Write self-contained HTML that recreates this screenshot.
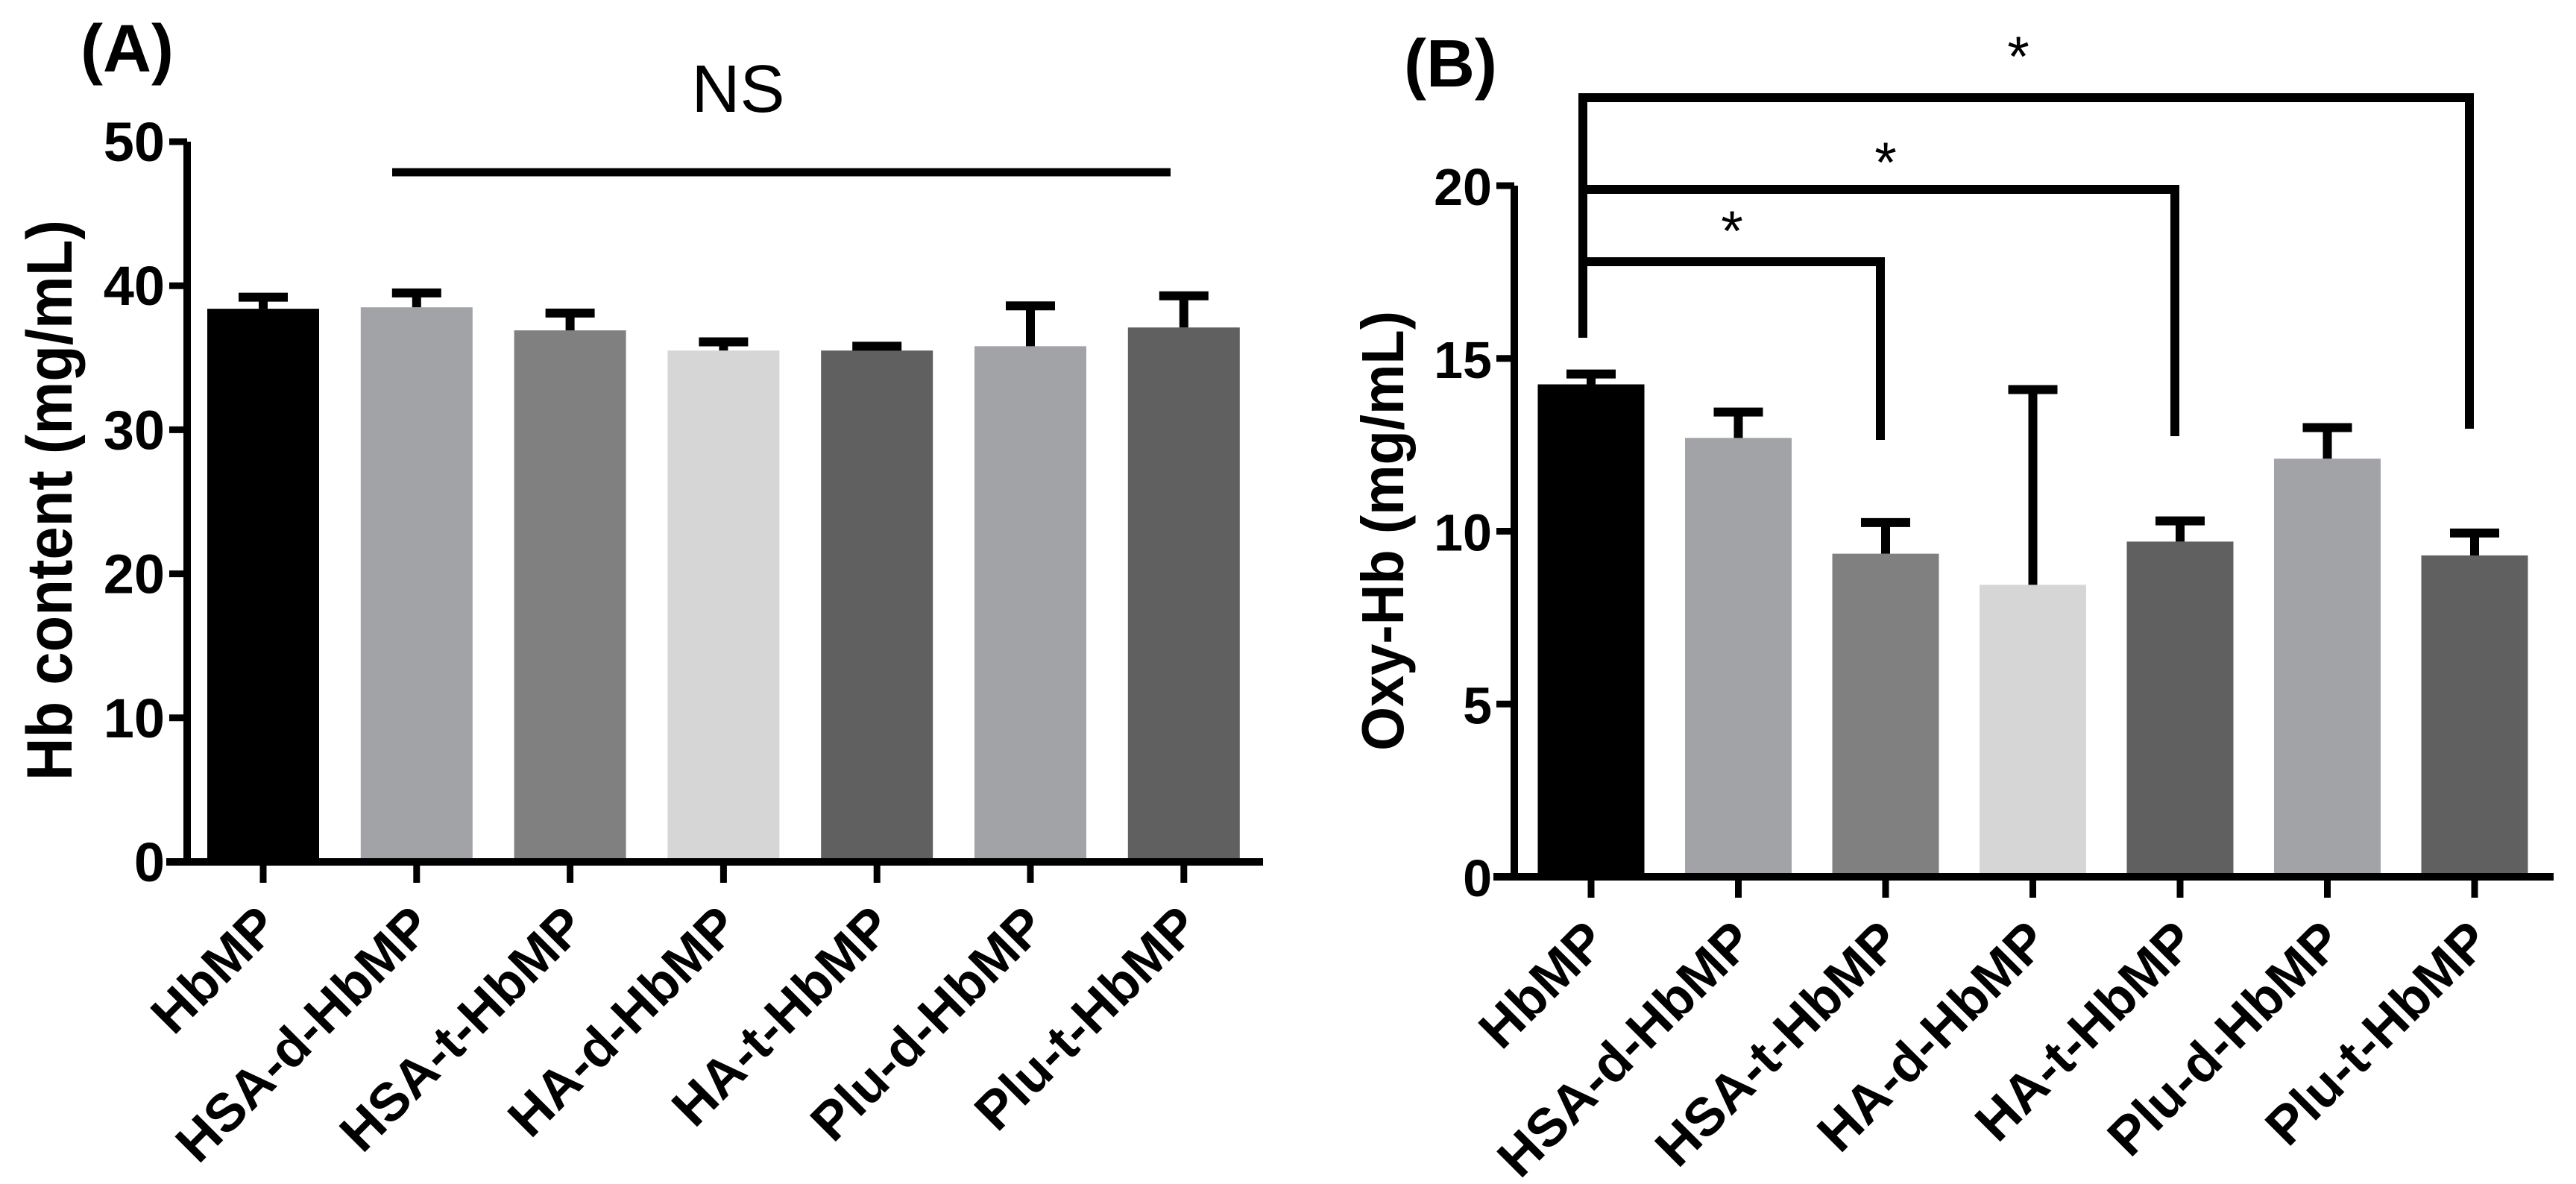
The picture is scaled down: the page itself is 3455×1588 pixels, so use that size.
<!DOCTYPE html>
<html><head><meta charset="utf-8"><style>
html,body{margin:0;padding:0;background:#fff;}
svg{display:block;}
text{font-family:"Liberation Sans",Arial,sans-serif;}
</style></head><body>
<svg id="fig" width="3455" height="1588" viewBox="0 0 3455 1588" xmlns="http://www.w3.org/2000/svg">
<rect width="3455" height="1588" fill="#fff"/>
<text x="108" y="96" font-size="90" font-weight="bold">(A)</text>
<text x="1883" y="116" font-size="90" font-weight="bold">(B)</text>
<g id="gA"></g>
<g id="gB"></g>
</svg>
<script>
const categories = ["HbMP","HSA-d-HbMP","HSA-t-HbMP","HA-d-HbMP","HA-t-HbMP","Plu-d-HbMP","Plu-t-HbMP"];
const colors = ["#000000","#a2a3a7","#808080","#d6d6d6","#606060","#a2a3a7","#606060"];
const hbValues = [38.4, 38.5, 36.9, 35.5, 35.5, 35.8, 37.1];
const hbErrors = [0.8, 1.0, 1.2, 0.6, 0.3, 2.8, 2.2];
const hbTicks = [0,10,20,30,40,50];
const oxyValues = [14.25, 12.7, 9.35, 8.45, 9.7, 12.1, 9.3];
const oxyErrors = [0.3, 0.75, 0.9, 5.65, 0.6, 0.9, 0.65];
const oxyTicks = [0,5,10,15,20];
const oxyComparisons = [[0,2],[0,4],[0,6]];
const NS = "http://www.w3.org/2000/svg";
function mk(parent, tag, attrs){const e=document.createElementNS(NS,tag);for(const k in attrs)e.setAttribute(k,attrs[k]);parent.appendChild(e);return e;}

function drawChart(g, cfg, values, errors, ticks){
  const yScale = v => cfg.y0 - (v - 0)/(cfg.ymax) * (cfg.y0 - cfg.yTop);
  const xScale = i => cfg.x0c + i*cfg.step;
  values.forEach((v,i)=>{
    const r = mk(g,'rect',{x:xScale(i)-cfg.bw/2,y:yScale(v),width:cfg.bw,height:cfg.y0-yScale(v),fill:colors[i]});
    
    
    const top = yScale(v+errors[i]);
    const eb = mk(g,'path',{d:`M${xScale(i)} ${yScale(v)} V${top} M${xScale(i)-33} ${top} H${xScale(i)+33}`,stroke:'#000','stroke-width':12,fill:'none'});
    
    
  });
  const ya = mk(g,'line',{x1:cfg.ax,y1:cfg.yTop,x2:cfg.ax,y2:cfg.y0+5,stroke:'#000','stroke-width':10});
  
  
  const xa = mk(g,'line',{x1:cfg.ax-28,y1:cfg.y0,x2:cfg.xEnd,y2:cfg.y0,stroke:'#000','stroke-width':10});
  
  
  ticks.forEach(t=>{
    const y=yScale(t);
    const tl = mk(g,'line',{x1:cfg.ax-24,y1:y,x2:cfg.ax,y2:y,stroke:'#000','stroke-width':9});
    
    
    const tx = mk(g,'text',{x:cfg.ax-30,y:y+26,'font-size':cfg.tickFont,'font-weight':'bold','text-anchor':'end'});
    tx.textContent=t;
    
    
  });
  categories.forEach((c,i)=>{
    const x=xScale(i);
    const tl = mk(g,'line',{x1:x,y1:cfg.y0,x2:x,y2:cfg.y0+28,stroke:'#000','stroke-width':9});
    
    
    const lx=x+24, ly=cfg.y0+90;
    const tx = mk(g,'text',{x:lx,y:ly,'font-size':72,'font-weight':'bold','text-anchor':'end',transform:`rotate(-45 ${lx} ${ly})`});
    tx.textContent=c;
    
    
  });
  const yt = mk(g,'text',{x:cfg.titleX,y:cfg.titleY,'font-size':cfg.titleFont,'font-weight':'bold','text-anchor':'middle',transform:`rotate(-90 ${cfg.titleX} ${cfg.titleY})`,textLength:cfg.titleLen,lengthAdjust:'spacingAndGlyphs'});
  yt.textContent=cfg.title;
  
  
  return {xScale,yScale};
}

const gA=document.getElementById('gA');
drawChart(gA,{ax:251,y0:1156,yTop:190,ymax:50,x0c:353,step:205.8,bw:150,xEnd:1694,tickFont:74,titleX:96,titleY:671,titleFont:86,titleLen:752,title:"Hb content (mg/mL)"},hbValues,hbErrors,hbTicks);
const nsLine = mk(gA,'line',{x1:526,y1:231,x2:1570,y2:231,stroke:'#000','stroke-width':11});


const nsText = mk(gA,'text',{x:990,y:150,'font-size':90,'text-anchor':'middle'});
nsText.textContent='NS';



const gB=document.getElementById('gB');
const sB = drawChart(gB,{ax:2031,y0:1176,yTop:249,ymax:20,x0c:2134,step:197.5,bw:143,xEnd:3425,tickFont:70,titleX:1882,titleY:712,titleFont:80,titleLen:590,title:"Oxy-Hb (mg/mL)"},oxyValues,oxyErrors,oxyTicks);
const bracketY=[351,254,131];
const bracketBottom=[590,585,575];
const starPos=[[2323,336],[2529,244],[2707,102]];
const leftV = mk(gB,'line',{x1:2123,y1:453,x2:2123,y2:125,stroke:'#000','stroke-width':12});


oxyComparisons.forEach((p,k)=>{
  const xr = sB.xScale(p[1])-7;
  const br = mk(gB,'path',{d:`M2123 ${bracketY[k]} H${xr} V${bracketBottom[k]}`,stroke:'#000','stroke-width':12,fill:'none'});
  
  
  const st = mk(gB,'text',{x:starPos[k][0],y:starPos[k][1],'font-size':76,'text-anchor':'middle'});
  st.textContent='*';
  
  
});
</script>
</body></html>
